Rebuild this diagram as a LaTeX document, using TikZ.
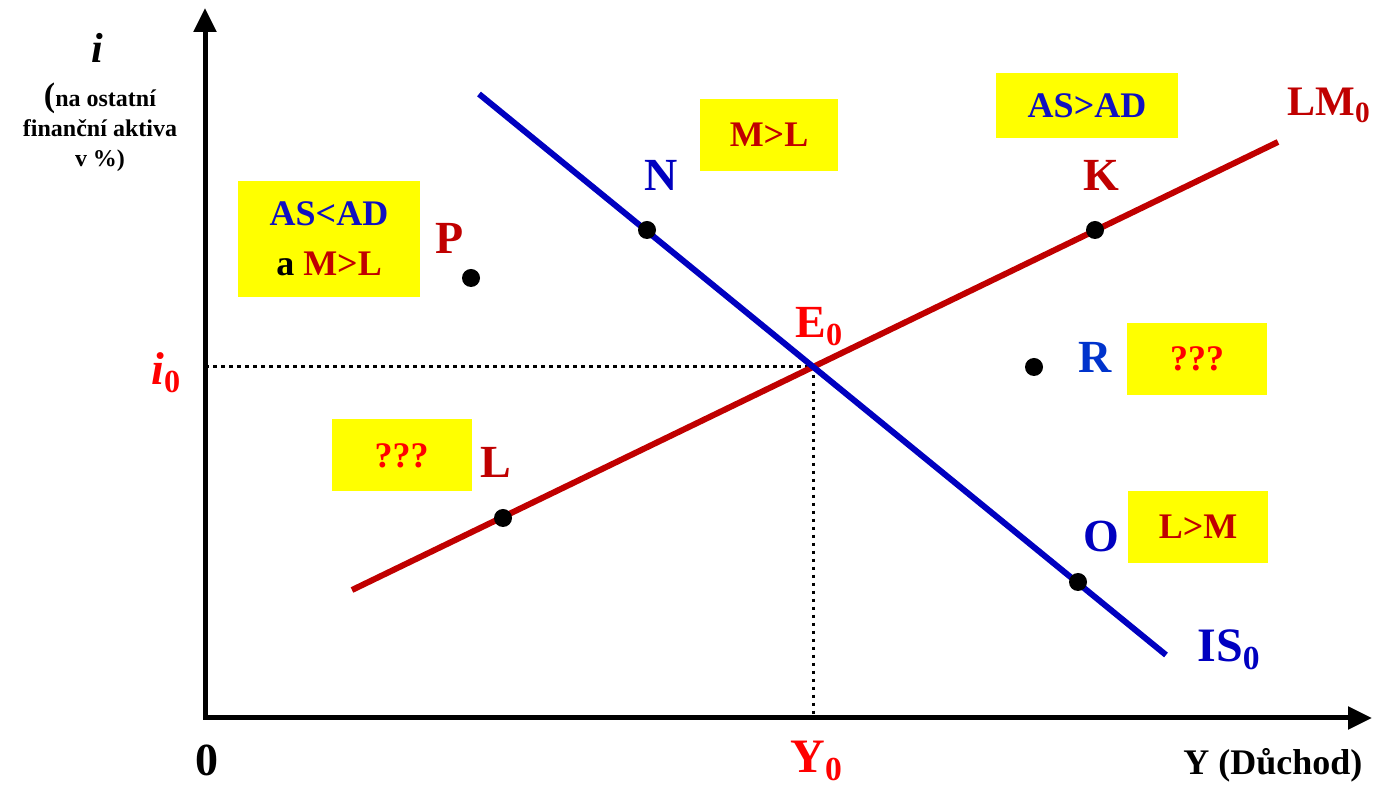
\documentclass[tikz,border=0pt]{standalone}
\usepackage{fontspec}
\setmainfont{Liberation Serif}
\usetikzlibrary{arrows.meta,positioning}
\definecolor{lmred}{RGB}{192,0,0}
\definecolor{isblue}{RGB}{0,0,192}
\definecolor{adblue}{RGB}{16,16,192}
\definecolor{rblue}{RGB}{0,51,204}
\definecolor{hl}{RGB}{255,255,0}
\tikzset{
ax/.style={line width=2.5pt,{Triangle[length=12pt,width=11pt]}-{Triangle[length=12pt,width=11pt]}},
crv/.style={line width=3pt},
guide/.style={line width=1.5pt,dash pattern=on 1.8pt off 2.2pt},
pnt/.style={circle,fill=black,inner sep=0pt,minimum size=9pt},
yb/.style={rectangle,fill=hl,inner sep=0pt,minimum width=70pt,minimum height=36pt,font=\bfseries\fontsize{18}{25}\selectfont},
lbl/.style={inner sep=0pt,font=\bfseries\fontsize{23}{28}\selectfont},
big/.style={inner sep=0pt,font=\bfseries\fontsize{24}{30}\selectfont},
}
\begin{document}
\begin{tikzpicture}[x=0.5pt,y=-0.5pt]
	\useasboundingbox (0,0) rectangle (1383,785);
	\coordinate (o) at (205,718);
	\coordinate (ytop) at (205,8);
	\coordinate (xend) at (1372,718);
	\coordinate (lmA) at (352,590);
	\coordinate (lmB) at (1278,142);
	\coordinate (isA) at (479,94);
	\coordinate (isB) at (1166,655);
	\coordinate (e0) at (intersection of lmA--lmB and isA--isB);

	\node[yb,minimum width=91pt,minimum height=58pt,align=center] (b1) at (329,239) {{\color{adblue}AS<AD}\\a {\color{lmred}M>L}};
	\node[yb,minimum width=69pt,text=lmred] (b2) at (769,135) {M>L};
	\node[yb,minimum width=91pt,minimum height=32.5pt,text=adblue] (b3) at (1087,105.5) {AS>AD};
	\node[yb,text=red] (b4) at (401.5,455.5) {???};
	\node[yb,text=red] (b5) at (1197,359) {???};
	\node[yb,text=lmred] (b6) at (1198,527) {L>M};

	\draw[ax] (ytop) -- (o) -- (xend);
	\draw[guide] (o |- e0) -- (e0) -- (e0 |- o);
	\draw[crv,lmred] (lmA) -- (lmB);
	\draw[crv,isblue] (isA) -- (isB);

	\node[pnt] (n) at (647,230) {};
	\node[pnt] (k) at (1095,230) {};
	\node[pnt] (p) at (471,278) {};
	\node[pnt] (r) at (1034,367) {};
	\node[pnt] (l) at (503,518) {};
	\node[pnt] (om) at (1078,582) {};

	\node[lbl,isblue] (nlab) at (661,175) {N};
	\node[lbl,lmred] (klab) at (1101,175) {K};
	\node[lbl,lmred] (plab) at (450,238) {P};
	\node[lbl,rblue] (rlab) at (1095,357) {R};
	\node[lbl,lmred] (llab) at (496,462) {L};
	\node[lbl,isblue] (olab) at (1101,537) {O};
	\node[lbl,red,anchor=base west] (elab) at (795,338) {E\textsubscript{0}};
	\node[inner sep=0pt,font=\bfseries\fontsize{21}{26}\selectfont,lmred,anchor=base west] (lmlab) at (1287,116) {LM\textsubscript{0}};
	\node[big,isblue,anchor=base west] (islab) at (1197,662) {IS\textsubscript{0}};
	\node[lbl,red,anchor=base west] (ilab) at (151,385) {\textit{i}\textsubscript{0}};
	\node[big,red,anchor=base west] (ylab) at (790,773) {Y\textsubscript{0}};
	\node[lbl] (zero) at (207,760) {0};
	\node[inner sep=0pt,anchor=base west,font=\bfseries\fontsize{18}{22}\selectfont] (xlab) at (1183,775) {Y (Důchod)};
	\node[inner sep=0pt,font=\bfseries\itshape\fontsize{21}{24}\selectfont] (ilabtop) at (97,48) {i};
	\node[inner sep=0pt,align=center,font=\bfseries\fontsize{12}{15}\selectfont] (ytext) at (100,127) {{\fontsize{17}{15}\selectfont(}na ostatní\\finanční aktiva\\v \%)};
\end{tikzpicture}
\end{document}
